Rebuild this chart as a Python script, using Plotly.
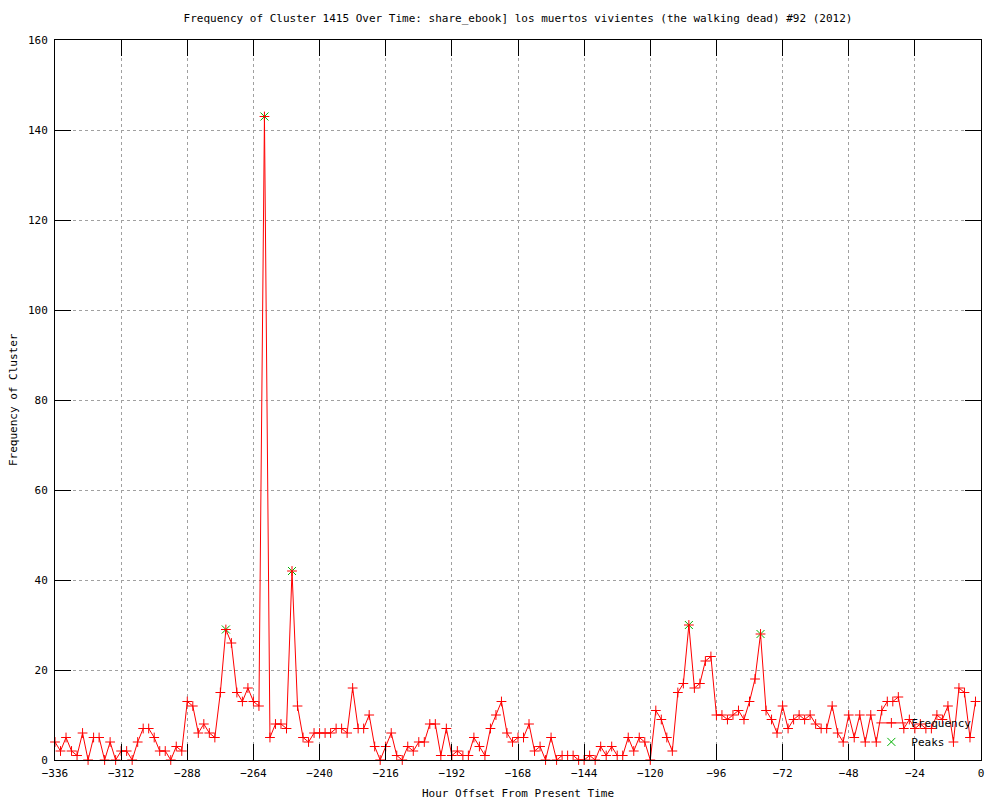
import plotly.graph_objects as go

# Hour offsets (every 2 hours)
hours = list(range(-336, 0, 2))

frequency = [
    4, 2, 5, 2, 1, 6, 0, 5, 5, 0, 4, 0,          # -336 .. -314
    2, 2, 0, 4, 7, 7, 5, 2, 2, 0, 3, 2,          # -312 .. -290
    13, 12, 6, 8, 6, 5, 15, 29, 26, 15, 13, 16,  # -288 .. -266
    13, 12, 143, 5, 8, 8, 7, 42, 12, 5, 4, 6,    # -264 .. -242
    6, 6, 6, 7, 7, 6, 16, 7, 7, 10, 3, 0,        # -240 .. -218
    3, 6, 1, 0, 3, 2, 4, 4, 8, 8, 1, 7,          # -216 .. -194
    1, 2, 1, 1, 5, 3, 1, 7, 10, 13, 6, 4,        # -192 .. -170
    5, 5, 8, 2, 3, 0, 5, 0, 1, 1, 1, 0,          # -168 .. -146
    0, 1, 0, 3, 1, 3, 1, 1, 5, 2, 5, 4,          # -144 .. -122
    0, 11, 9, 5, 2, 15, 17, 30, 16, 17, 22, 23,  # -120 .. -98
    10, 10, 9, 10, 11, 9, 13, 18, 28, 11, 9, 6,  # -96 .. -74
    12, 7, 9, 10, 9, 10, 8, 7, 7, 12, 6, 4,      # -72 .. -50
    10, 5, 10, 4, 10, 4, 11, 13, 13, 14, 7, 9,   # -48 .. -26
    7, 8, 7, 7, 10, 9, 12, 4, 16, 15, 5, 13,     # -24 .. -2
]

peak_hours = [-274, -260, -250, -106, -80]
peak_values = [29, 143, 42, 30, 28]

x_ticks = list(range(-336, 1, 24))
y_ticks = list(range(0, 161, 20))

FONT = "DejaVu Sans Mono"

fig = go.Figure()

fig.add_trace(go.Scatter(
    x=peak_hours, y=peak_values, mode="markers", name="Peaks",
    marker=dict(symbol="x-thin-open", size=8, color="#00b000",
                line=dict(color="#00b000", width=1)),
    cliponaxis=False, legendrank=2,
))

fig.add_trace(go.Scatter(
    x=hours, y=frequency, mode="lines+markers", name="Frequency",
    line=dict(color="#ff0000", width=1),
    marker=dict(symbol="cross-thin-open", size=7, color="#ff0000",
                line=dict(color="#ff0000", width=1)),
    cliponaxis=False, legendrank=1,
))

axis_common = dict(
    showline=True, linecolor="black", linewidth=1, mirror="ticks",
    ticks="inside", ticklen=16, tickcolor="black", tickwidth=1,
    showgrid=True, gridcolor="#a0a0a0", griddash="dot", gridwidth=1,
    zeroline=False, tickfont=dict(family=FONT, size=11, color="black"),
)

fig.update_xaxes(range=[-336, 0], tickvals=x_ticks, ticklabelstandoff=3, **axis_common)
fig.update_yaxes(range=[0, 160], tickvals=y_ticks, ticklabelstandoff=4, **axis_common)

fig.update_layout(
    width=992, height=792,
    margin=dict(l=47, r=19, t=32, b=40),
    paper_bgcolor="white", plot_bgcolor="white",
    font=dict(family=FONT, size=11, color="black"),
    title=dict(
        text="Frequency of Cluster 1415 Over Time: share_ebook] los muertos vivientes (the walking dead) #92 (2012)",
        x=0.5, xref="paper", y=1 - 10 / 792, yref="container", yanchor="middle",
        font=dict(family=FONT, size=11, color="black"),
    ),
    legend=dict(
        x=0.995, y=0.005, xanchor="right", yanchor="bottom",
        bgcolor="rgba(0,0,0,0)", font=dict(family=FONT, size=11),
        tracegroupgap=0, itemwidth=30,
    ),
    annotations=[
        dict(text="Hour Offset From Present Time", xref="paper", yref="paper",
             x=0.5, y=0, yshift=-33, xanchor="center", yanchor="middle",
             showarrow=False, font=dict(family=FONT, size=11)),
        dict(text="Frequency of Cluster", xref="paper", yref="paper",
             x=0, y=0.5, xshift=-42, xanchor="center", yanchor="middle",
             textangle=-90, showarrow=False, font=dict(family=FONT, size=11)),
    ],
)

fig.write_html("out.html")
